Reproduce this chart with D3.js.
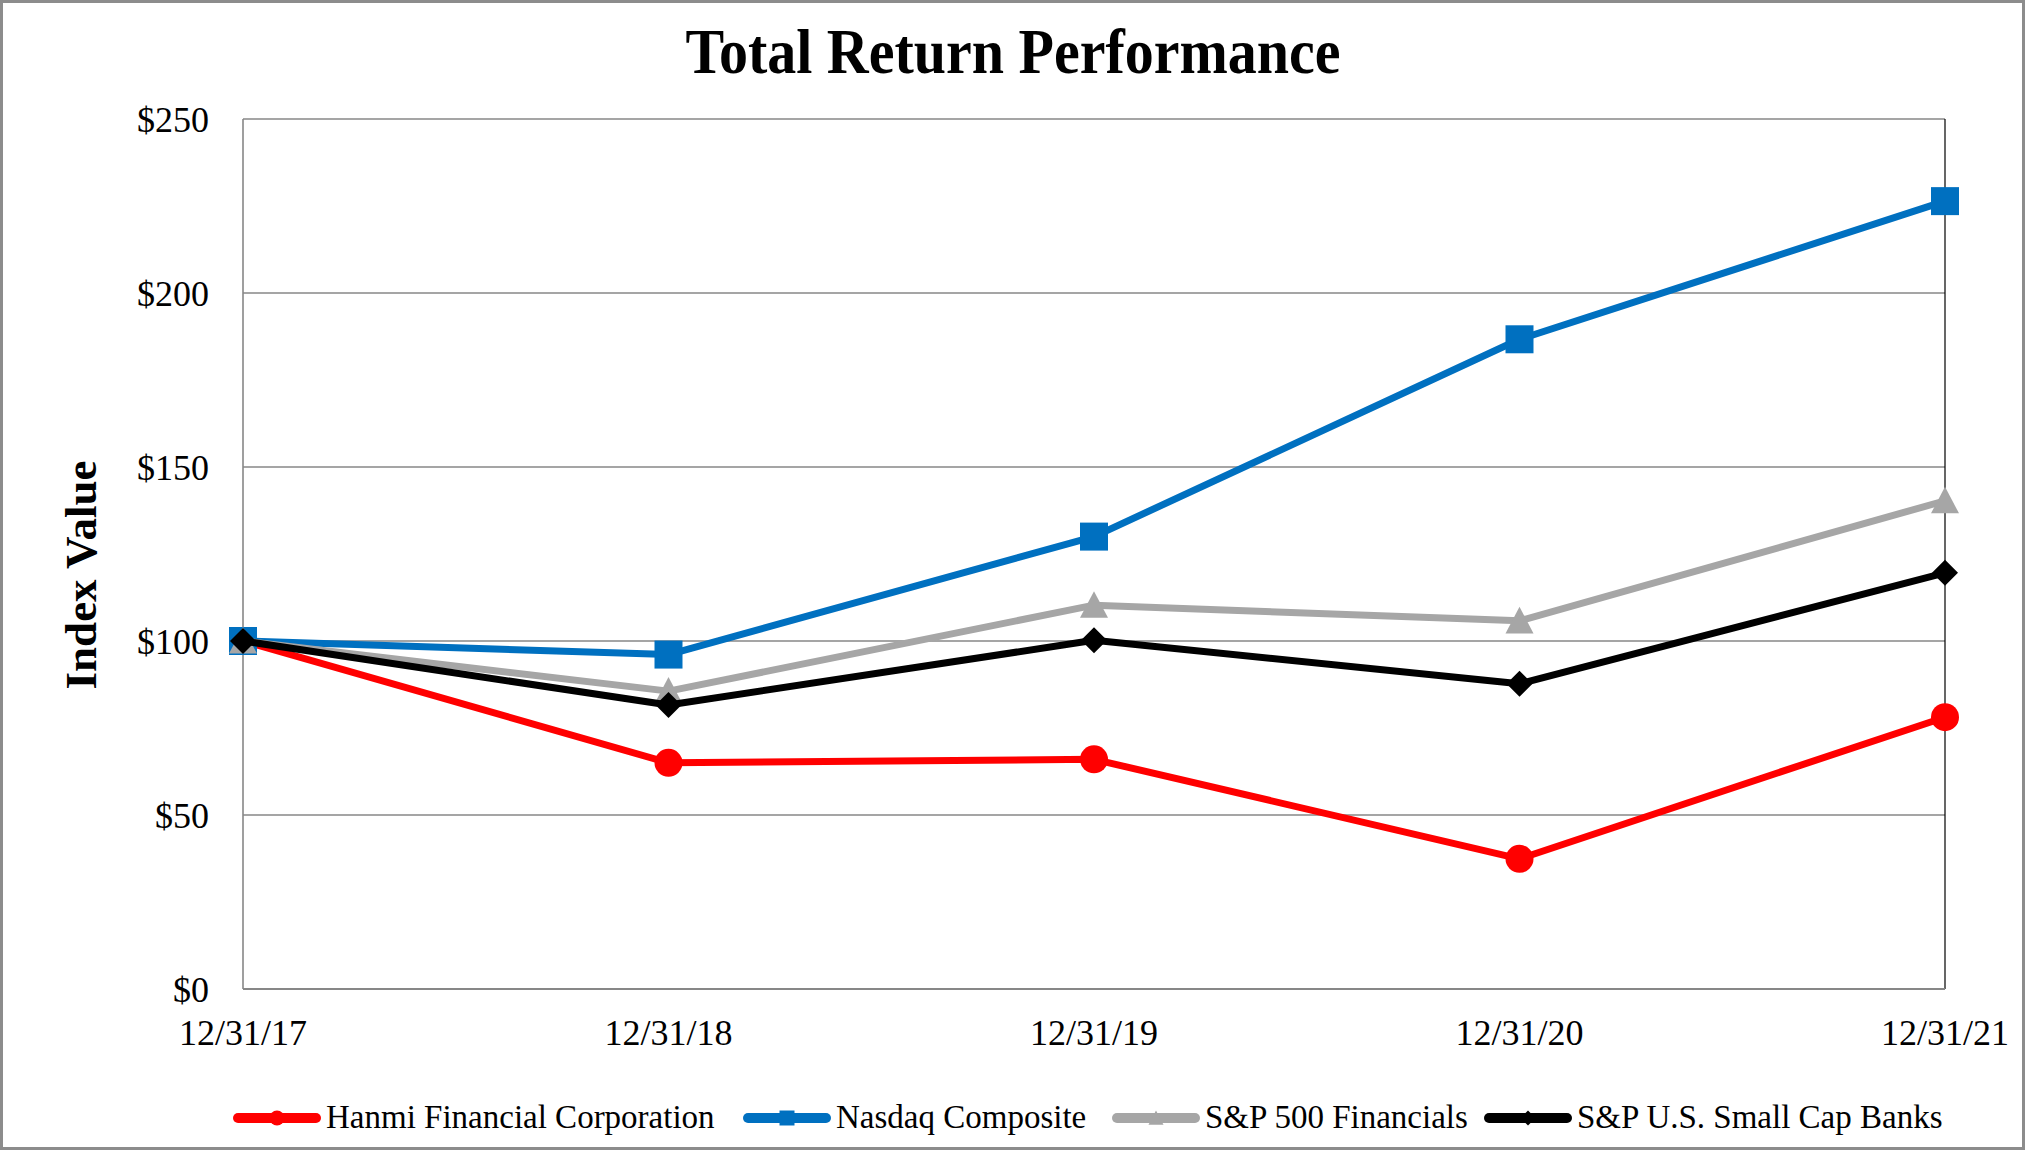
<!DOCTYPE html>
<html>
<head>
<meta charset="utf-8">
<script src="https://cdn.jsdelivr.net/npm/d3@7"></script>
<style>
  body { margin: 0; background: #fff; }
  svg text { font-family: "Liberation Serif", "Times New Roman", serif; fill: #000; }
</style>
</head>
<body>
<svg id="chart" width="2025" height="1150"></svg>
<script>
// Data
const dates = ["12/31/17", "12/31/18", "12/31/19", "12/31/20", "12/31/21"];
const hanmi = [100, 65.0, 66.0, 37.4, 78.1];
const nasdaq = [100, 96.1, 130.0, 186.7, 226.4];
const spFinancials = [100, 85.6, 110.3, 105.8, 140.3];
const smallCapBanks = [100, 81.6, 100.2, 87.7, 119.6];
const yTicks = [0, 50, 100, 150, 200, 250];

const seriesNames = ["Hanmi Financial Corporation", "Nasdaq Composite", "S&P 500 Financials", "S&P U.S. Small Cap Banks"];
const seriesValues = [hanmi, nasdaq, spFinancials, smallCapBanks];
const seriesColors = ["#ff0000", "#0070c0", "#a6a6a6", "#000000"];
const seriesMarkers = ["circle", "square", "triangle", "diamond"];

const svg = d3.select("#chart");
const W = 2025, H = 1150;
const plot = { left: 243, right: 1945, top: 119, bottom: 989 };

// Outer frame
svg.append("rect")
  .attr("x", 1.5).attr("y", 1.5)
  .attr("width", W - 3).attr("height", H - 3)
  .attr("fill", "#fff").attr("stroke", "#8c8c8c").attr("stroke-width", 3);

const x = d3.scalePoint().domain(dates).range([plot.left, plot.right]);
const y = d3.scaleLinear().domain([0, 250]).range([plot.bottom, plot.top]);

// Gridlines
svg.append("g").selectAll("line")
  .data(yTicks.filter(d => d > 0))
  .join("line")
  .attr("x1", plot.left).attr("x2", plot.right)
  .attr("y1", d => y(d)).attr("y2", d => y(d))
  .attr("stroke", "#878787").attr("stroke-width", 1.6);

// Axes lines
svg.append("line")
  .attr("x1", plot.left).attr("x2", plot.left)
  .attr("y1", plot.top).attr("y2", plot.bottom)
  .attr("stroke", "#878787").attr("stroke-width", 1.6);
svg.append("line")
  .attr("x1", plot.right).attr("x2", plot.right)
  .attr("y1", plot.top).attr("y2", plot.bottom)
  .attr("stroke", "#000").attr("stroke-width", 1.2);
svg.append("line")
  .attr("x1", plot.left).attr("x2", plot.right)
  .attr("y1", plot.bottom).attr("y2", plot.bottom)
  .attr("stroke", "#878787").attr("stroke-width", 2.2);

// Y tick labels
svg.append("g").selectAll("text")
  .data(yTicks)
  .join("text")
  .attr("x", 209).attr("y", d => y(d))
  .attr("dy", "0.35em")
  .attr("text-anchor", "end")
  .style("font-size", "36px")
  .text(d => "$" + d);

// X tick labels
svg.append("g").selectAll("text")
  .data(dates)
  .join("text")
  .attr("x", d => x(d)).attr("y", 1045)
  .attr("text-anchor", "middle")
  .style("font-size", "36px")
  .text(d => d);

// Title
svg.append("text")
  .attr("transform", "translate(1013,73) scale(1,1.08)")
  .attr("text-anchor", "middle")
  .style("font-size", "58px").style("font-weight", "bold")
  .text("Total Return Performance");

// Y axis title
svg.append("text")
  .attr("transform", "translate(96,575) rotate(-90)")
  .attr("text-anchor", "middle")
  .style("font-size", "45px").style("font-weight", "bold")
  .text("Index Value");

// Marker drawing
function markerPath(type, s) {
  const h = s / 2;
  if (type === "circle") return d3.symbol(d3.symbolCircle, Math.PI * h * h)();
  if (type === "square") return `M${-h},${-h}H${h}V${h}H${-h}Z`;
  if (type === "triangle") return `M0,${-h}L${h},${h * 0.9}L${-h},${h * 0.9}Z`;
  return `M0,${-h}L${h},0L0,${h}L${-h},0Z`;
}
const markerSize = { circle: 28, square: 28, triangle: 28, diamond: 26 };

const line = d3.line()
  .x((d, i) => x(dates[i]))
  .y(d => y(d));

seriesValues.forEach((vals, k) => {
  const g = svg.append("g");
  g.append("path")
    .datum(vals)
    .attr("d", line)
    .attr("fill", "none")
    .attr("stroke", seriesColors[k])
    .attr("stroke-width", 7)
    .attr("stroke-linejoin", "round");
  g.selectAll("path.mk")
    .data(vals)
    .join("path")
    .attr("class", "mk")
    .attr("transform", (d, i) => `translate(${x(dates[i])},${y(d)})`)
    .attr("d", markerPath(seriesMarkers[k], markerSize[seriesMarkers[k]]))
    .attr("fill", seriesColors[k]);
});

// Legend
const legendX = [234, 744, 1113, 1485];
const legendY = 1118;
const leg = svg.append("g");
seriesNames.forEach((name, k) => {
  const lx = legendX[k];
  leg.append("line")
    .attr("x1", lx + 4).attr("x2", lx + 82)
    .attr("y1", legendY).attr("y2", legendY)
    .attr("stroke", seriesColors[k]).attr("stroke-width", 10)
    .attr("stroke-linecap", "round");
  leg.append("path")
    .attr("transform", `translate(${lx + 43},${legendY})`)
    .attr("d", markerPath(seriesMarkers[k], 15))
    .attr("fill", seriesColors[k]);
  leg.append("text")
    .attr("x", lx + 92).attr("y", legendY + 10)
    .style("font-size", "33px")
    .text(name);
});
</script>
</body>
</html>
